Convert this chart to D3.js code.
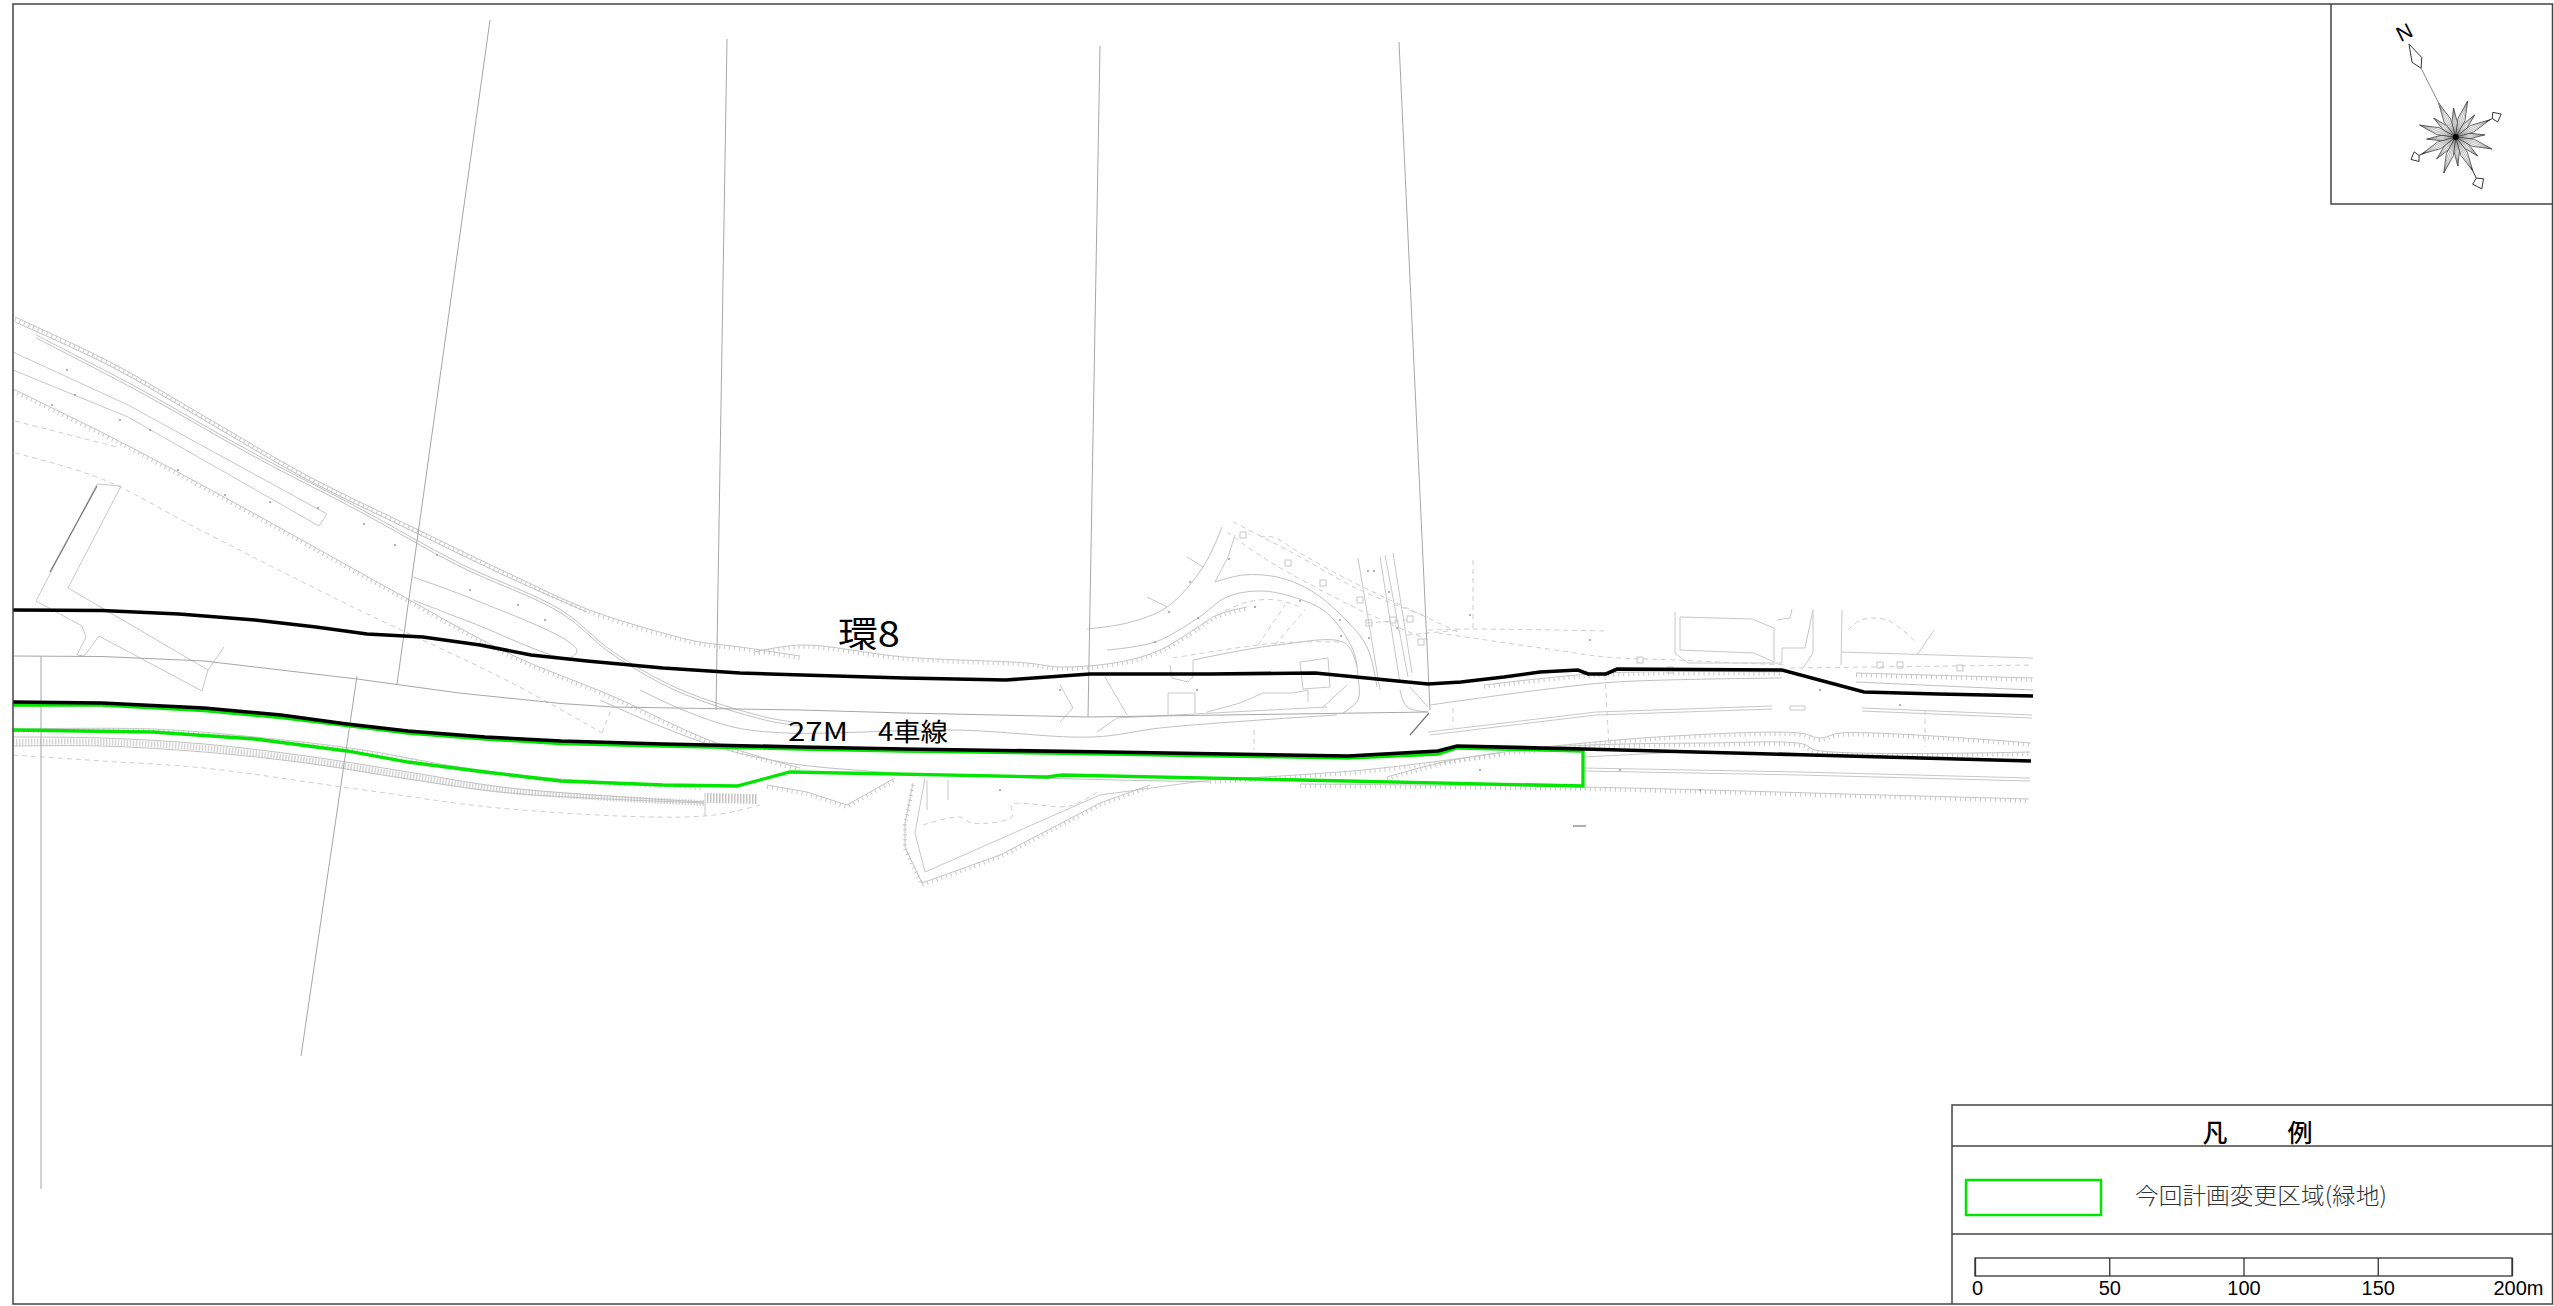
<!DOCTYPE html>
<html lang="ja">
<head>
<meta charset="utf-8">
<script src="https://cdn.jsdelivr.net/npm/d3@7"></script>
<style>
body { margin: 0; background: #fff; }
svg { display: block; }
text { font-family: "Noto Sans CJK JP", sans-serif; fill: #000; }
</style>
</head>
<body>
<script>
// boundary lines
var upperBoundary = [[13,610],[102,610.5],[179,614],[255,620],[316,627],[367,634],[423,637],[480,645],[531,655],[587,661],[663,668],[740,673],[802,675],[904,678],[1006,680],[1090,674],[1210,674],[1315,673],[1428,684],[1461,682],[1504,677],[1540,672],[1578,670],[1588,674],[1606,674],[1617,669],[1782,670],[1864,692],[1938,694],[2033,696]];
var lowerBoundary = [[13,702],[102,703],[204,708],[281,715],[347,724],[408,731],[485,737],[561,741],[663,744],[800,747],[904,749],[1108,752],[1348,756],[1438,751],[1457,746],[1583,749],[1810,755],[2031,761]];
var changeArea = [[13,705],[102,705],[204,710.5],[281,717.5],[347,725.5],[408,733],[485,739],[561,743.5],[663,746],[800,749],[904,751],[1108,754],[1348,758],[1438,754],[1457,748],[1583,751],[1583,786],[1300,780],[1062,775],[1047,777],[790,772],[737,786],[663,785],[561,781],[485,772],[408,762],[347,751],[255,739],[153,732],[13,730]];

// sheet and grid lines
var sheetLines = [
  [[490,20],[397,684]],
  [[357,676],[301,1056]],
  [[727,39],[716,710]],
  [[1100,46],[1088,717]],
  [[1399,42],[1430,710]],
  [[41,656],[41,1189]],
  [[13,656],[102,656.5],[204,661],[357,679],[459,693],[561,703.5],[612,707],[800,710],[904,713],[1088,717],[1428,712]]
];

// plain road edges with corners
var roadEdges = [
  [[13,352],[128,405],[327,514],[319,526],[128,417],[13,370]],
  [[97,484],[121,486],[68,588],[208,670],[202,691],[99,636],[84,656],[77,655],[86,637],[82,626],[36,601],[97,484]],
  [[208,670],[224,647]],
  [[705,793],[705,816]],
  [[927,780],[927,810]],
  [[948,780],[948,800]],
  [[1235,535],[1228,557],[1215,582]],
  [[1300,662],[1328,658],[1330,687],[1303,689],[1300,662]],
  [[1168,715],[1168,693],[1195,693],[1195,713]],
  [[1105,677],[1127,715]],
  [[1060,685],[1073,708],[1060,722]],
  [[1207,712],[1240,703],[1263,693],[1293,693],[1308,690],[1308,702]],
  [[1347,685],[1323,707]],
  [[1170,665],[1172,678],[1188,682],[1193,677],[1193,660]],
  [[1358,558],[1380,690]],
  [[1380,557],[1400,683]],
  [[1385,555],[1408,677]],
  [[1393,553],[1412,673]],
  [[1410,687],[1428,707]],
  [[1187,557],[1203,567]],
  [[1147,597],[1167,607]],
  [[1675,612],[1675,653],[1688,663],[1782,663]],
  [[1680,617],[1752,619],[1774,628],[1774,662],[1754,653],[1680,650],[1680,617]],
  [[1782,663],[1782,648],[1805,648],[1813,610]],
  [[1813,610],[1813,653],[1803,668]],
  [[1792,609],[1790,618],[1777,620]],
  [[1842,610],[1841,665]],
  [[1841,652],[2033,658]],
  [[1917,655],[1934,630]],
  [[1428,732],[1596,712],[1772,706]],
  [[1430,735],[1596,715],[1772,709]],
  [[1862,708],[2032,715]],
  [[1862,711],[2032,718]],
  [[1790,706],[1805,706],[1805,710],[1790,710],[1790,706]],
  [[1583,757],[1683,752],[1810,755]],
  [[1583,768],[1800,772],[2030,778]],
  [[1583,771],[1800,775],[2030,781]],
  [[1097,732],[1117,718],[1327,707]],
  [[925,778],[915,833],[925,872],[1100,795],[1210,780]]
];

// long smooth road edges
var curvedEdges = [
  [[15,322],[112,367],[204,420],[306,479],[408,529],[510,578],[587,612]],
  [[36,335],[138,388],[255,454],[357,507],[459,563],[561,610],[612,651],[679,689],[765,717],[800,723]],
  [[36,338],[138,391],[255,457],[357,510],[459,566],[561,613],[612,654],[679,692],[765,720],[800,726]],
  [[413,577],[470,598],[566,640],[577,651],[569,658],[470,622],[413,600]],
  [[640,690],[683,710],[733,727],[787,733],[955,730],[1093,737],[1160,728],[1260,720],[1337,715]],
  [[600,700],[650,722],[717,747],[787,763],[867,771],[933,775],[1210,782]],
  [[13,737],[102,738],[204,744],[306,756],[408,772],[510,788],[704,802]],
  [[13,746],[102,746],[204,752],[306,763],[408,779],[510,793],[704,803]],
  [[1087,629],[1127,623],[1167,607],[1203,567],[1222,527]],
  [[1215,582],[1243,575],[1277,577],[1310,590],[1343,617],[1367,647],[1377,687]],
  [[1107,650],[1155,642],[1198,618],[1227,597],[1260,591],[1293,597],[1327,613],[1353,650],[1358,677],[1358,700],[1343,713]],
  [[1193,660],[1277,645],[1345,643],[1357,667]],
  [[1400,690],[1407,707],[1428,712]],
  [[1856,682],[2033,690]],
  [[1430,705],[1540,690],[1616,682],[1782,678]]
];

// dashed and dotted edges
var dashedEdges = [
  [[15,421],[117,447]],
  [[15,453],[102,479],[204,532],[357,609],[510,682],[602,733]],
  [[602,733],[611,710]],
  [[13,755],[102,761],[204,768],[357,789],[510,809],[705,816],[760,805]],
  [[923,825],[960,817],[972,823],[1012,817],[1012,805],[1070,806],[1100,790]],
  [[1233,522],[1293,553],[1360,590],[1428,617]],
  [[1227,532],[1267,560],[1360,610],[1428,640]],
  [[1260,537],[1273,537],[1300,553],[1343,577],[1460,633]],
  [[1217,615],[1247,602],[1277,600],[1300,607]],
  [[1173,658],[1277,643],[1343,642]],
  [[1258,645],[1285,605]],
  [[1275,645],[1305,610]],
  [[1367,623],[1407,620]],
  [[1407,635],[1460,630]],
  [[1428,630],[1473,629],[1606,631]],
  [[1438,633],[1555,650],[1606,657],[1675,660],[1785,665]],
  [[1848,630],[1861,620],[1887,620],[1917,643]],
  [[1790,668],[2033,665]],
  [[1605,675],[1609,747]],
  [[1925,710],[1925,747]],
  [[1453,708],[1453,727]],
  [[1254,730],[1254,750]],
  [[1473,560],[1473,629]]
];

// shoulders drawn with tick marks
var hatchedEdges = [
  [[15,317],[112,363],[204,416],[306,475],[408,525],[510,574],[587,609],[663,633],[700,642],[740,647],[800,656]],
  [[13,389],[117,440],[255,514],[388,588],[510,654],[612,696],[714,742],[800,768]],
  [[13,729],[153,729],[255,737],[357,749],[459,767],[561,779],[704,786]],
  [[754,652],[802,645],[904,657],[1027,663],[1060,667],[1120,662],[1160,650],[1198,627],[1217,615],[1247,607]],
  [[1210,780],[1363,770],[1500,753]],
  [[1484,685],[1606,673],[1782,672]],
  [[1856,673],[2033,678]],
  [[1387,777],[1453,760],[1555,747],[1708,743],[1803,744],[1815,750],[2030,752]],
  [[1545,747],[1657,737],[1800,733],[1820,738],[1841,733],[2031,743]],
  [[1300,784],[1581,787],[1882,795],[2029,799]]
];

// shoulders with sharp corners around the pond
var hatchedCorners = [
  [[767,785],[807,792],[847,805],[895,778]],
  [[913,783],[905,823],[905,847],[922,883],[1000,855],[1100,803],[1150,785]]
];

// stippled sidewalk
var stippleEdges = [
  [[13,742],[102,742],[204,748],[306,760],[408,776],[510,791],[704,803]]
];
var stippleDark = [[[707,798],[757,799]]];

var darkEdges = [
  [[97,486],[50,572]],
  [[1429,713],[1410,735]],
  [[1573,826],[1586,826]]
];

// small squares in the planting strip
var smallSquares = [[1243,535],[1288,563],[1323,583],[1360,600],[1393,620],[1410,619],[1369,623],[1421,642],[1640,660],[1670,670],[1880,665],[1960,668],[1900,665]];

// survey points
var surveyDots = [[67,370],[75,395],[52,405],[120,420],[150,430],[178,470],[225,495],[270,502],[318,508],[364,524],[395,545],[437,555],[470,590],[518,605],[545,620],[1255,607],[1340,620],[1470,615],[1590,640],[1820,690],[1900,705],[1480,770],[1620,770],[1700,790],[1000,790],[1060,690],[1198,618],[1155,642],[1169,612],[1190,582],[1229,559],[1300,601],[1341,636],[1369,638],[1389,592],[1397,628],[1368,571],[1374,571],[1197,690]];

// compass, angles in degrees clockwise from north of the plan
var northBearing = -26.7;
var petalBearings = [0,22.5,45,67.5,90,112.5,135,157.5,180,202.5,225,247.5,270,292.5,315,337.5];
var petalLengths = [38,29,38,29,38,29,38,29,38,29,38,29,38,29,38,29];
var needleBearings = [0,90,180,270];
var needleBase = [77,41,46,41];
var needleTip = [104,51,58,50];

// scale bar
var scaleTicks = [0,50,100,150,200];

var width = 2554, height = 1306;

var svg = d3.select("body").append("svg")
    .attr("width", width)
    .attr("height", height);

var x = d3.scaleLinear().domain([0, 2554]).range([0, width]);
var y = d3.scaleLinear().domain([0, 1306]).range([0, height]);

var straight = d3.line().x(function(d){ return x(d[0]); }).y(function(d){ return y(d[1]); });
var smooth = d3.line().x(function(d){ return x(d[0]); }).y(function(d){ return y(d[1]); }).curve(d3.curveCatmullRom);

function drawLines(list, gen, stroke, sw, dash){
    svg.append("g").selectAll("path")
        .data(list)
        .enter()
        .append("path")
        .attr("d", gen)
        .attr("fill", "none")
        .attr("stroke", stroke)
        .attr("stroke-width", sw)
        .attr("stroke-dasharray", dash);
}

function drawHatched(list, gen){
    list.forEach(function(h){
        drawLines([h], gen, "#c4c4c4", 1, null);
        drawLines([h.map(function(p){ return [p[0], p[1] + 2]; })], gen, "#c8c8c8", 4, "1 4");
    });
}

drawLines(stippleEdges, smooth, "#d4d4d4", 6, "1.5 1.5");
drawLines(stippleDark, straight, "#c4c4c4", 10, "1.5 1.5");
drawLines(roadEdges, straight, "#c8c8c8", 1, null);
drawLines(curvedEdges, smooth, "#c0c0c0", 1, null);
drawLines(dashedEdges, smooth, "#cecece", 1, "5 4");
drawHatched(hatchedEdges, smooth);
drawHatched(hatchedCorners, straight);
drawLines(darkEdges, straight, "#777", 1.2, null);
drawLines(sheetLines, straight, "#a6a6a6", 1, null);

svg.append("g").selectAll("rect")
    .data(smallSquares)
    .enter()
    .append("rect")
    .attr("x", function(d){ return x(d[0]) - 3; })
    .attr("y", function(d){ return y(d[1]) - 3; })
    .attr("width", 6).attr("height", 6)
    .attr("fill", "none").attr("stroke", "#c8c8c8");

svg.append("g").selectAll("circle")
    .data(surveyDots)
    .enter()
    .append("circle")
    .attr("cx", function(d){ return x(d[0]); })
    .attr("cy", function(d){ return y(d[1]); })
    .attr("r", 1)
    .attr("fill", "#999");

drawLines([changeArea], straight, "#00e600", 3.3, null);
drawLines([upperBoundary, lowerBoundary], straight, "#000", 3.6, null);

function stretched(label, left, base, size, len){
    svg.append("text")
        .attr("x", x(left)).attr("y", y(base))
        .attr("font-size", size)
        .attr("textLength", len).attr("lengthAdjust", "spacingAndGlyphs")
        .text(label);
}
stretched("環8", 838, 647, 35, 62);
stretched("27M", 788, 741, 25, 60);
stretched("4車線", 878, 741, 25, 70);

// sheet frame
svg.append("rect")
    .attr("x", x(13)).attr("y", y(4))
    .attr("width", x(2552.5) - x(13)).attr("height", y(1304) - y(4))
    .attr("fill", "none").attr("stroke", "#444").attr("stroke-width", 1.5);

// compass box
drawLines([[[2331,4],[2331,204],[2553,204]]], straight, "#444", 1.5, null);

var cx = 2455.7, cy = 137;
var compass = svg.append("g").attr("transform", "translate(" + cx + "," + cy + ")");
var rad = d3.scaleLinear().domain([0, 360]).range([0, 2 * Math.PI]);
var radial = d3.lineRadial().angle(function(d){ return rad(d[0]); }).radius(function(d){ return d[1]; });

// short petals first so the long ones sit on top
d3.range(petalBearings.length).sort(function(i, j){ return petalLengths[i] - petalLengths[j]; }).forEach(function(i){
    var a = petalBearings[i] + northBearing, r = petalLengths[i];
    compass.append("path")
        .attr("d", radial([[a, 0], [a - 11, r * 0.5], [a, r], [a + 11, r * 0.5], [a, 0]]))
        .attr("fill", "#fff").attr("stroke", "#222").attr("stroke-width", 0.7);
    compass.append("path")
        .attr("d", radial([[a, 0], [a - 5, r * 0.55], [a, r], [a + 5, r * 0.55], [a, 0], [a, r]]))
        .attr("fill", "none").attr("stroke", "#555").attr("stroke-width", 0.4);
});
compass.append("circle").attr("r", 3).attr("fill", "#000");

needleBearings.forEach(function(b, i){
    var a = b + northBearing, lo = needleBase[i], hi = needleTip[i];
    var mid = lo + (hi - lo) * 0.35;
    var wing = i == 0 ? 3.6 : 7;
    compass.append("path")
        .attr("d", radial([[a, 34], [a, lo]]))
        .attr("stroke", i == 0 ? "#888" : "#333").attr("stroke-width", 1);
    compass.append("path")
        .attr("d", radial([[a, lo], [a - wing, mid], [a, hi], [a + wing, mid], [a, lo]]))
        .attr("fill", "#fff").attr("stroke", "#333").attr("stroke-width", 1);
});

svg.append("text")
    .attr("transform", "translate(2404,32) rotate(-26.7)")
    .attr("text-anchor", "middle").attr("dy", "0.36em")
    .attr("font-size", 21)
    .style("font-family", "'Liberation Sans'")
    .text("N");

// legend
drawLines([[[2553,1105],[1952,1105],[1952,1304]], [[1952,1146],[2553,1146]], [[1952,1234],[2553,1234]]], straight, "#444", 1.5, null);

svg.append("text").attr("x", 2215).attr("y", 1133).attr("dy", "0.36em").attr("text-anchor", "middle").attr("font-size", 25).attr("font-weight", 500).text("凡");
svg.append("text").attr("x", 2300).attr("y", 1133).attr("dy", "0.36em").attr("text-anchor", "middle").attr("font-size", 25).attr("font-weight", 500).text("例");

svg.append("rect")
    .attr("x", 1966).attr("y", 1180).attr("width", 135).attr("height", 35)
    .attr("fill", "none").attr("stroke", "#00e600").attr("stroke-width", 2.5);

svg.append("text")
    .attr("x", 2135).attr("y", 1196).attr("dy", "0.36em")
    .attr("font-size", 23).attr("font-weight", 300)
    .attr("textLength", 252).attr("lengthAdjust", "spacingAndGlyphs")
    .style("fill", "#333")
    .text("今回計画変更区域(緑地)");

// scale bar, metres
var metres = d3.scaleLinear().domain([0, 200]).range([1975, 2512]);
svg.append("rect")
    .attr("x", metres(0)).attr("y", 1258)
    .attr("width", metres(200) - metres(0)).attr("height", 18)
    .attr("fill", "none").attr("stroke", "#333").attr("stroke-width", 1.3);

var axis = d3.axisBottom(metres)
    .tickValues(scaleTicks)
    .tickSize(-18)
    .tickPadding(5)
    .tickFormat(function(d){ return d == 200 ? "200m" : d; });

var axisG = svg.append("g")
    .attr("transform", "translate(0,1276)")
    .call(axis);
axisG.select(".domain").remove();
axisG.selectAll("line").attr("stroke", "#333").attr("stroke-width", 1.3);
axisG.selectAll("text")
    .style("font-family", "'Liberation Sans Narrow','Liberation Sans'")
    .attr("font-size", 20)
    .attr("dx", function(d){ return d == 200 ? 6 : d == 0 ? 2 : 0; });
</script>
</body>
</html>
